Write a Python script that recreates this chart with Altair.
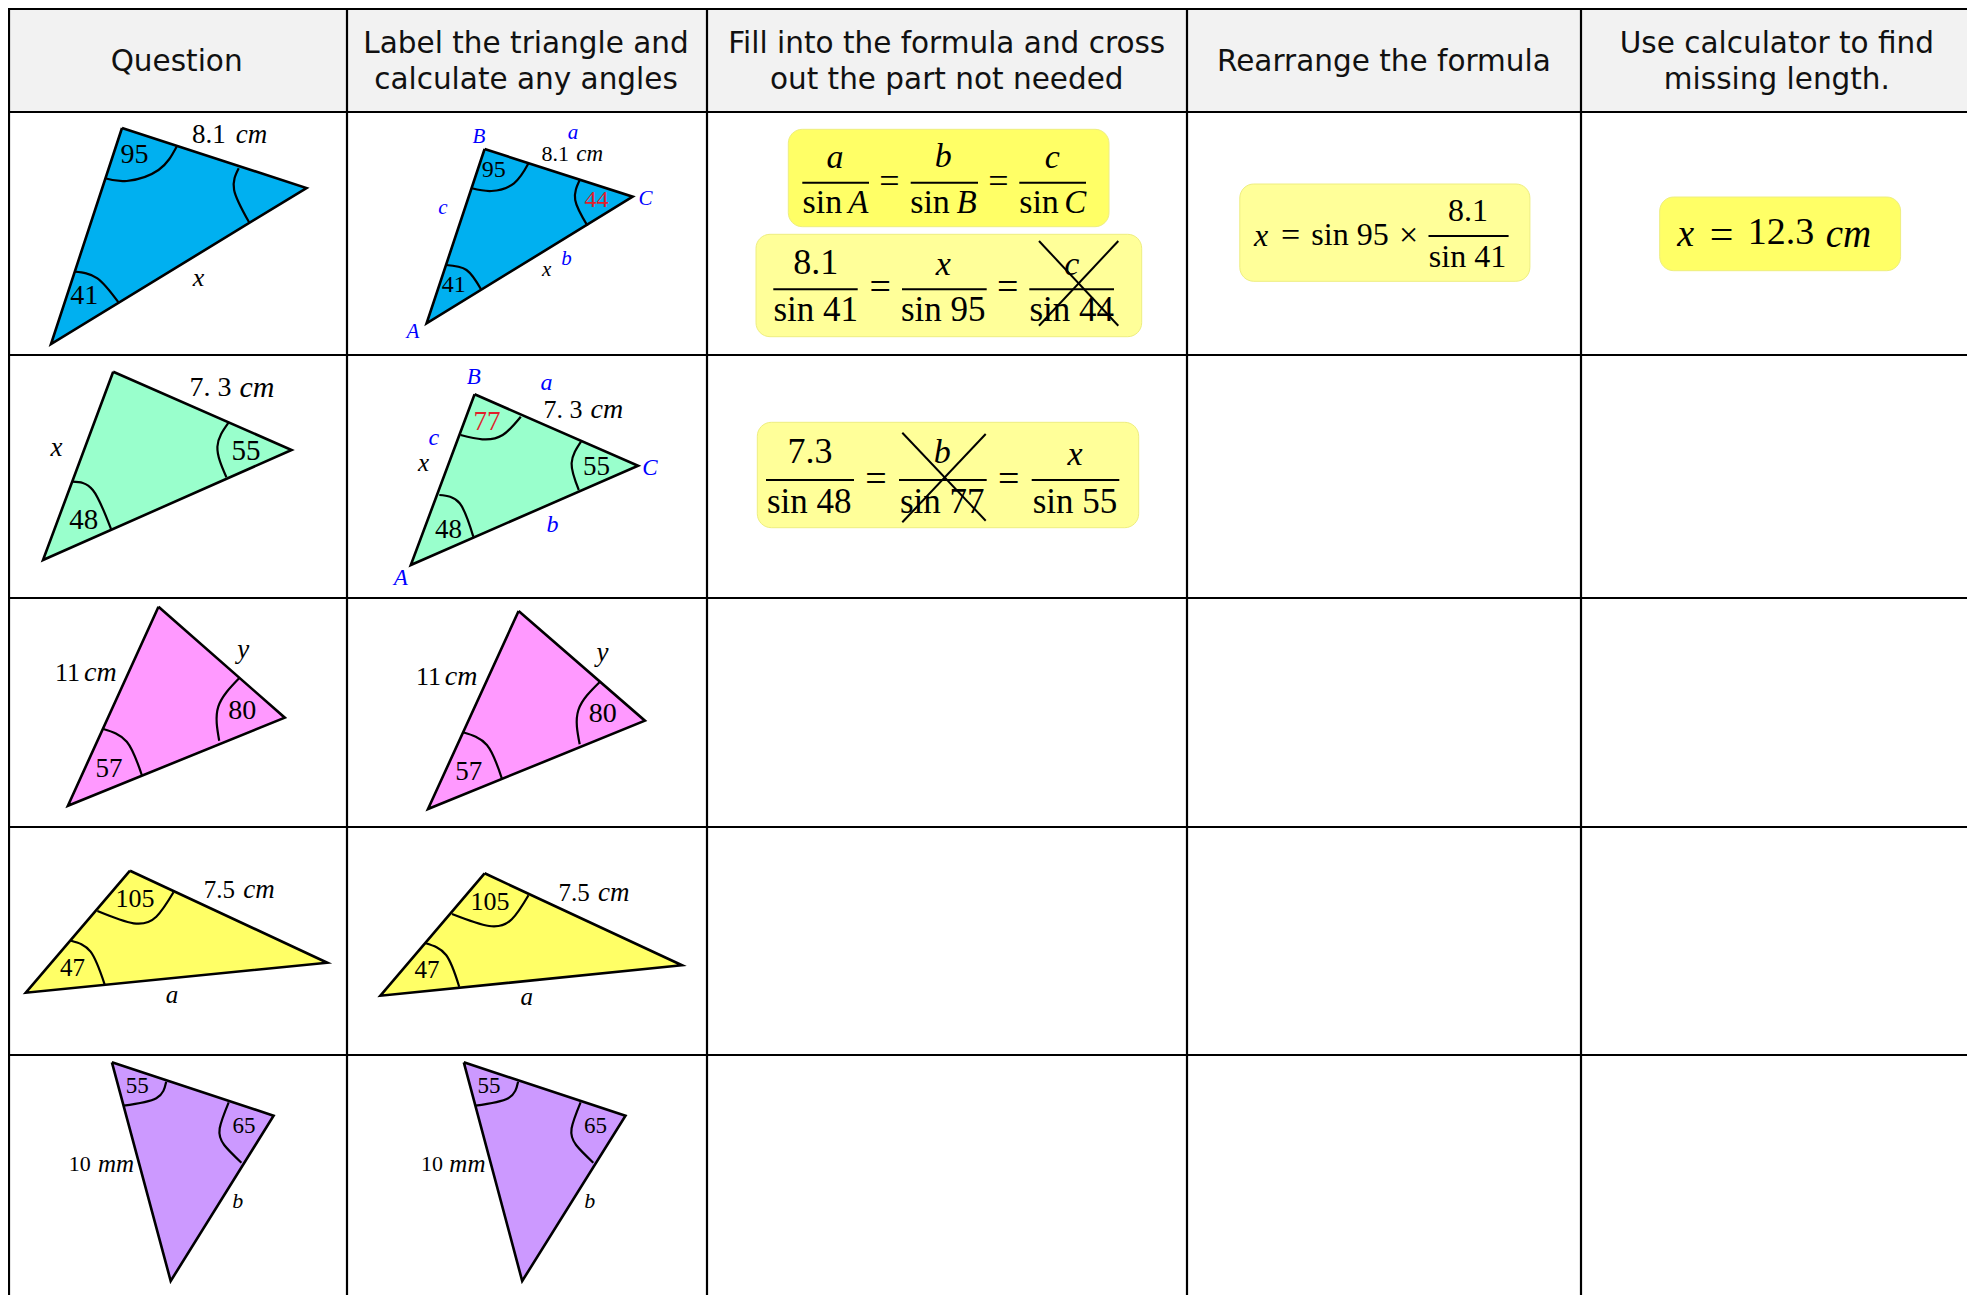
import altair as alt
import pandas as pd

# Positions below are readings in the reference's own pixel frame.
X_DOMAIN = [8, 1967]
Y_DOMAIN = [1295, 8]
W, H = 1959, 1287

BLACK = "#000000"
BLUE = "#0000ff"
RED = "#e0202a"

HEADER_BAND = [(8, 1967, 9, 112, "#f2f2f2")]

GRID_V = [9, 347, 707, 1187, 1581]
GRID_H = [9, 112, 355, 598, 827, 1055]

TRIANGLES = [
    ("#00b0f0", [(122, 128), (306.5, 188), (51, 344)]),
    ("#00b0f0", [(484.6, 149), (632.7, 196.7), (426.6, 323.3)]),
    ("#99ffcc", [(113.2, 371.7), (291.6, 450), (43, 560)]),
    ("#99ffcc", [(474.6, 394.3), (638.1, 465.7), (410.8, 565)]),
    ("#ff99ff", [(158.5, 606.7), (284.8, 717.7), (67.9, 805.7)]),
    ("#ff99ff", [(518.6, 611), (644.9, 720.7), (428, 809)]),
    ("#ffff66", [(130, 870.7), (327.3, 962.7), (25.8, 992.7)]),
    ("#ffff66", [(484.6, 873.3), (682, 965.3), (380.4, 995.7)]),
    ("#cc99ff", [(111.9, 1062.3), (273.6, 1115.7), (170.7, 1281)]),
    ("#cc99ff", [(463.8, 1062.3), (625.5, 1115.7), (522.2, 1281)]),
]

ARCS = [
    [(176.6, 146.7), (158.5, 170), (126.8, 181), (105, 178.3)],
    [(238.7, 168.3), (234.1, 190), (249.1, 222.3)],
    [(74.7, 271.7), (97.4, 278.3), (118.7, 302.7)],
    [(528.5, 163.3), (514, 183.3), (491.4, 191), (471.9, 188.3)],
    [(579.7, 180), (575.2, 200), (587.4, 225.7)],
    [(446.1, 265), (466.5, 270), (481, 289.3)],
    [(228.7, 422.3), (217.4, 446.7), (226.4, 477.3)],
    [(72.5, 481.7), (92.8, 490), (111, 529)],
    [(520.8, 416.7), (502.7, 435), (482.3, 439.3), (460.6, 435)],
    [(581, 441.7), (571.6, 463.3), (578.8, 490)],
    [(439.3, 495), (459.7, 503.3), (473.3, 536.7)],
    [(239.1, 678.3), (218.3, 706.7), (219.2, 740.7)],
    [(103.3, 729), (126.8, 741.7), (141.8, 775)],
    [(600, 681.7), (578.4, 710), (579.7, 744.3)],
    [(462.9, 732.3), (486.9, 745), (501.8, 778.3)],
    [(173.5, 892.3), (156.3, 916.7), (133.6, 923.3), (97.4, 911)],
    [(71.1, 940.7), (90.6, 951.7), (104.6, 984.3)],
    [(528.5, 895.3), (511.8, 919.3), (489.1, 926), (452, 914)],
    [(425.7, 943.3), (446.1, 955), (459.2, 986.7)],
    [(166.2, 1081.7), (156.3, 1098.3), (123.6, 1105.7)],
    [(228.7, 1102.3), (219.7, 1128.3), (224.2, 1145), (241.4, 1162.7)],
    [(518.1, 1081.7), (508.2, 1098.3), (475.5, 1105.7)],
    [(580.6, 1102.3), (571.6, 1128.3), (576.1, 1145), (593.3, 1162.7)],
]

# x, x2, y, y2, fill
BOXES = [
    (788.3, 1109, 129.3, 226.7, "#ffff66"),
    (756, 1141.7, 234.3, 336.7, "#ffff99"),
    (757.3, 1138.7, 422.3, 527.7, "#ffff99"),
    (1239.8, 1529.9, 184, 281.3, "#ffff99"),
    (1659.7, 1900.6, 197, 270.7, "#ffff66"),
]

# x, x2, y
FRACTION_BARS = [
    (802.3, 869, 182.7), (910.7, 978, 182.7), (1019.3, 1086, 182.7),
    (773.3, 857.7, 289.3), (902, 986.7, 289.3), (1029.3, 1114, 289.3),
    (766, 854, 480), (899, 986.7, 480), (1031.7, 1119.3, 480),
    (1428.5, 1508.6, 236),
]

# x, x2, y, y2
CROSSES = [
    (1039, 1118.3, 241, 325.7), (1118.3, 1039, 241, 325.7),
    (902.3, 985.7, 432.7, 520.7), (985.7, 902.3, 434, 522.3),
]

# x, y, text
HEADERS = [
    (176.6, 61.5, "Question"),
    (526, 43.5, "Label the triangle and"),
    (526, 79.5, "calculate any angles"),
    (946.7, 43.5, "Fill into the formula and cross"),
    (946.7, 79.5, "out the part not needed"),
    (1383.9, 61.5, "Rearrange the formula"),
    (1776.9, 43.5, "Use calculator to find"),
    (1776.9, 79.5, "missing length."),
]
HEADER_SIZE = 29.5

# x, y, text, size, colour
ROMAN = [
    (134.5, 155, "95", 28, BLACK), (84.2, 296, "41", 28, BLACK), (208.8, 135, "8.1", 27, BLACK),
    (493.7, 170, "95", 24, BLACK), (596.5, 200, "44", 24, RED), (453.8, 285, "41", 24, BLACK),
    (555.3, 154, "8.1", 22, BLACK),
    (245.9, 451, "55", 29, BLACK), (83.8, 520, "48", 29, BLACK), (210.6, 387.7, "7. 3", 28, BLACK),
    (486.9, 422.3, "77", 27, RED), (596.5, 466.7, "55", 27, BLACK), (448.4, 530, "48", 27, BLACK),
    (563, 410, "7. 3", 26, BLACK),
    (242.3, 711, "80", 28, BLACK), (109.1, 769, "57", 27, BLACK), (67.5, 673.3, "11", 26, BLACK),
    (602.8, 714.3, "80", 28, BLACK), (468.8, 771.7, "57", 27, BLACK), (428.4, 676.7, "11", 26, BLACK),
    (135, 899.3, "105", 26, BLACK), (72.5, 967.7, "47", 25, BLACK), (219.4, 890, "7.5", 25, BLACK),
    (490, 901.7, "105", 26, BLACK), (427, 970, "47", 25, BLACK), (574, 892.7, "7.5", 25, BLACK),
    (137.2, 1085.7, "55", 23, BLACK), (244.1, 1126, "65", 23, BLACK), (79.7, 1164, "10", 22, BLACK),
    (489.1, 1085.7, "55", 23, BLACK), (595.6, 1126, "65", 23, BLACK), (432, 1164, "10", 22, BLACK),
    # formula 1
    (822.3, 203.3, "sin", 34, BLACK), (930, 203.3, "sin", 34, BLACK), (1039, 203.3, "sin", 34, BLACK),
    (889.3, 181.7, "=", 36, BLACK), (998.3, 181.7, "=", 36, BLACK),
    # formula 2
    (815.7, 263.3, "8.1", 36, BLACK), (815.7, 310, "sin 41", 35, BLACK), (880.3, 288.3, "=", 38, BLACK),
    (943.3, 310, "sin 95", 35, BLACK), (1007.7, 288.3, "=", 38, BLACK), (1071.7, 310, "sin 44", 35, BLACK),
    # formula 3
    (810, 451.7, "7.3", 36, BLACK), (809.3, 501.7, "sin 48", 35, BLACK), (876, 480, "=", 38, BLACK),
    (942.3, 501.7, "sin 77", 35, BLACK), (1008.7, 480, "=", 38, BLACK), (1075, 501.7, "sin 55", 35, BLACK),
    # rearranged
    (1290.5, 236, "=", 34, BLACK), (1350, 235, "sin 95", 32, BLACK), (1408.7, 236, "×", 34, BLACK),
    (1468, 210.7, "8.1", 32, BLACK), (1467.5, 256.7, "sin 41", 32, BLACK),
    # answer
    (1721.6, 235, "=", 42, BLACK), (1780.9, 233.3, "12.3", 38, BLACK),
]

ITALIC = [
    (251.4, 135, "cm", 27, BLACK), (198.4, 278, "x", 26, BLACK),
    (589.7, 154, "cm", 23, BLACK), (546.6, 270, "x", 21, BLACK),
    (572.9, 133.3, "a", 21, BLUE), (479, 137.3, "B", 21, BLUE), (645.4, 199, "C", 21, BLUE),
    (442.9, 208.3, "c", 21, BLUE), (566.6, 259, "b", 21, BLUE), (413, 331.7, "A", 21, BLUE),
    (257, 387.7, "cm", 30, BLACK), (56.6, 447.7, "x", 27, BLACK),
    (606.9, 410, "cm", 28, BLACK), (423.5, 463.3, "x", 25, BLACK),
    (473.7, 377.3, "B", 23, BLUE), (546.6, 383.3, "a", 24, BLUE), (433.9, 438.3, "c", 24, BLUE),
    (649.9, 468.3, "C", 23, BLUE), (552.5, 525, "b", 24, BLUE), (400.8, 577.7, "A", 23, BLUE),
    (100.3, 673.3, "cm", 28, BLACK), (243.2, 650, "y", 27, BLACK),
    (461.2, 676.7, "cm", 28, BLACK), (602.4, 653.3, "y", 27, BLACK),
    (259, 890, "cm", 27, BLACK), (172.1, 995, "a", 25, BLACK),
    (613.7, 892.7, "cm", 27, BLACK), (526.7, 996.7, "a", 25, BLACK),
    (116, 1164, "mm", 25, BLACK), (237.8, 1201, "b", 22, BLACK),
    (467.4, 1164, "mm", 25, BLACK), (589.7, 1201, "b", 22, BLACK),
    # formula 1
    (835, 158, "a", 34, BLACK), (943.3, 157, "b", 34, BLACK), (1052.3, 158, "c", 34, BLACK),
    (858.3, 203.3, "A", 33, BLACK), (966.7, 203.3, "B", 33, BLACK), (1075.3, 203.3, "C", 33, BLACK),
    # formula 2
    (943.3, 265, "x", 34, BLACK), (1071.7, 265, "c", 34, BLACK),
    # formula 3
    (942.3, 453.3, "b", 34, BLACK), (1075, 455, "x", 34, BLACK),
    # rearranged / answer
    (1261, 236, "x", 32, BLACK), (1685.6, 235, "x", 38, BLACK), (1848.4, 235, "cm", 39, BLACK),
]

sx = alt.Scale(domain=X_DOMAIN, nice=False, zero=False)
sy = alt.Scale(domain=Y_DOMAIN, nice=False, zero=False)
PX = alt.X("x:Q", scale=sx, axis=None)
PY = alt.Y("y:Q", scale=sy, axis=None)

layers = []

# header band
band = pd.DataFrame(HEADER_BAND, columns=["x", "x2", "y", "y2", "fill"])
layers.append(alt.Chart(band).mark_rect().encode(
    x=PX, x2="x2:Q", y=PY, y2="y2:Q", fill=alt.Fill("fill:N", scale=None)))

# triangles and their angle arcs
for colour, pts in TRIANGLES:
    closed = pts + [pts[0]]
    d = pd.DataFrame({"x": [p[0] for p in closed], "y": [p[1] for p in closed],
                      "i": list(range(len(closed)))})
    layers.append(alt.Chart(d).mark_line(fill=colour, stroke=BLACK, strokeWidth=2.6,
                                         strokeJoin="miter", interpolate="linear").encode(
        x=PX, y=PY, order="i:Q"))
for arc in ARCS:
    d = pd.DataFrame({"x": [p[0] for p in arc], "y": [p[1] for p in arc],
                      "i": list(range(len(arc)))})
    layers.append(alt.Chart(d).mark_line(stroke=BLACK, strokeWidth=2.2, interpolate="natural").encode(
        x=PX, y=PY, order="i:Q"))

# formula boxes
boxes = pd.DataFrame(BOXES, columns=["x", "x2", "y", "y2", "fill"])
layers.append(alt.Chart(boxes).mark_rect(cornerRadius=14, stroke="#eeee80", strokeWidth=1).encode(
    x=PX, x2="x2:Q", y=PY, y2="y2:Q", fill=alt.Fill("fill:N", scale=None)))

# table grid
grid = pd.DataFrame(
    [(x, x, 9, 1295) for x in GRID_V] + [(8, 1967, y, y) for y in GRID_H],
    columns=["x", "x2", "y", "y2"])
layers.append(alt.Chart(grid).mark_rule(color=BLACK, strokeWidth=2.2).encode(
    x=PX, x2="x2:Q", y=PY, y2="y2:Q"))

# text
def text_layer(rows, font, style="normal"):
    d = pd.DataFrame(rows, columns=["x", "y", "text", "size", "colour"])
    return alt.Chart(d).mark_text(font=font, fontStyle=style, align="center", baseline="middle").encode(
        x=PX, y=PY, text="text:N",
        size=alt.Size("size:Q", scale=None),
        color=alt.Color("colour:N", scale=None))

layers.append(text_layer([(x, y, t, HEADER_SIZE, "#111111") for x, y, t in HEADERS], "DejaVu Sans"))
layers.append(text_layer(ROMAN, "Liberation Serif"))
layers.append(text_layer(ITALIC, "Liberation Serif", "italic"))

# fraction bars and crossings
bars = pd.DataFrame([(a, b, y, y) for a, b, y in FRACTION_BARS], columns=["x", "x2", "y", "y2"])
layers.append(alt.Chart(bars).mark_rule(color=BLACK, strokeWidth=2).encode(
    x=PX, x2="x2:Q", y=PY, y2="y2:Q"))
cross = pd.DataFrame(CROSSES, columns=["x", "x2", "y", "y2"])
layers.append(alt.Chart(cross).mark_rule(color=BLACK, strokeWidth=2).encode(
    x=PX, x2="x2:Q", y=PY, y2="y2:Q"))

chart = alt.layer(*layers).properties(
    width=W, height=H, padding=0,
    autosize=alt.AutoSizeParams(type="none"),
    background="#ffffff",
).configure_view(stroke=None)

chart.save("out.html", embed_options={"renderer": "svg", "actions": False})
